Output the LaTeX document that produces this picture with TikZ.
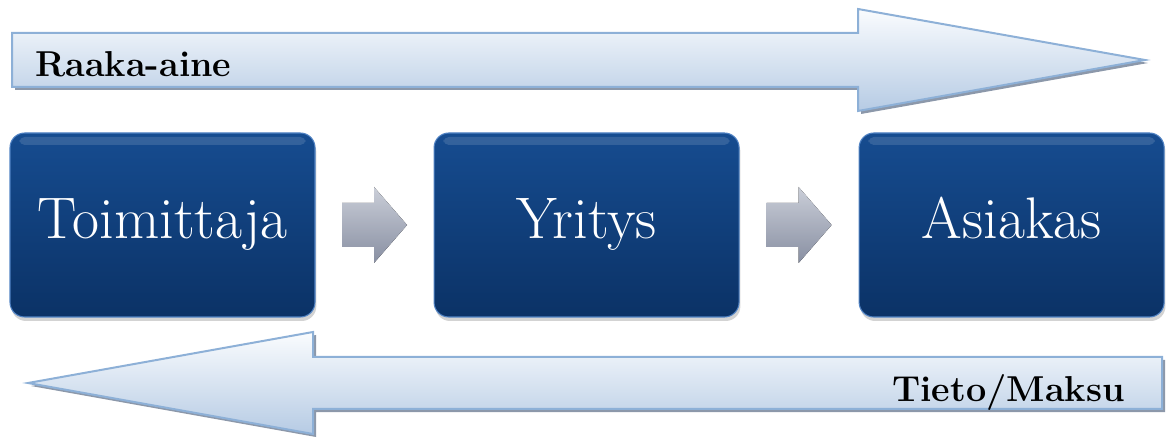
\documentclass[tikz,border=0pt]{standalone}
\usetikzlibrary{positioning, calc, shadows}

\definecolor{boxtop}{RGB}{22,76,144}
\definecolor{boxbottom}{RGB}{11,50,102}
\definecolor{boxedge}{RGB}{80,130,195}
\definecolor{flowtop}{RGB}{250,252,254}
\definecolor{flowbottom}{RGB}{182,203,228}
\definecolor{flowedge}{RGB}{141,176,215}
\definecolor{flowshadow}{RGB}{140,152,170}
\definecolor{steptop}{RGB}{202,206,216}
\definecolor{stepbottom}{RGB}{136,143,162}

\tikzset{
  stagebox/.style={rounded corners=11pt, minimum width=228.75pt, minimum height=138pt,
    top color=boxtop, bottom color=boxbottom, draw=boxedge, line width=0.8pt,
    text=white, font=\fontsize{44}{52}\selectfont, text height=30pt, text depth=9pt,
    drop shadow={shadow xshift=1pt, shadow yshift=-3pt, opacity=0.35},
    path picture={\fill[white, opacity=0.13, rounded corners=4pt]
      ([shift={(7pt,-3pt)}]path picture bounding box.north west) rectangle
      ([shift={(-7pt,-9pt)}]path picture bounding box.north east);}},
  flowarrow/.style={top color=flowtop, bottom color=flowbottom, draw=flowedge,
    line width=1.5pt, line join=miter},
  flowshade/.style={fill=flowshadow, shift={(3,3)}},
  flowlabel/.style={font=\bfseries\fontsize{27}{32}\selectfont, inner sep=0pt},
  stepdart/.style={top color=steptop, bottom color=stepbottom, draw=none}
}

\begin{document}
\begin{tikzpicture}[x=0.75pt, y=-0.75pt]
\useasboundingbox (0,0) rectangle (1168,438);

% material flow (top)
\fill [flowshade] (12,33) -- (858,33) -- (858,9) -- (1145,60) -- (858,111) -- (858,87) -- (12,87) -- cycle;
\draw [flowarrow] (12,33) -- (858,33) -- (858,9) -- (1145,60) -- (858,111) -- (858,87) -- (12,87) -- cycle;
\node [flowlabel, anchor=base west] (raaka) at (35,77) {Raaka-aine};

% information / payment flow (bottom)
\fill [flowshade] (1162,357) -- (313,357) -- (313,332) -- (28,383) -- (313,434) -- (313,409) -- (1162,409) -- cycle;
\draw [flowarrow] (1162,357) -- (313,357) -- (313,332) -- (28,383) -- (313,434) -- (313,409) -- (1162,409) -- cycle;
\node [flowlabel, anchor=base east] (tieto) at (1125,402) {Tieto/Maksu};

% chain
\node [stagebox] (toim) at (162.5,225) {Toimittaja};
\node [stagebox, right=88.5pt of toim] (yri) {Yritys};
\node [stagebox, right=89.25pt of yri] (asi) {Asiakas};

\foreach \a/\b in {toim/yri, yri/asi} {
  \path ($(\a.east)!0.5!(\b.west)$) coordinate (\a-\b);
  \fill [stepdart] ([shift={(-24.4pt,16.5pt)}]\a-\b) -- ([shift={(-0.4pt,16.5pt)}]\a-\b)
    -- ([shift={(-0.4pt,28.5pt)}]\a-\b) -- ([shift={(24.4pt,0pt)}]\a-\b)
    -- ([shift={(-0.4pt,-28.5pt)}]\a-\b) -- ([shift={(-0.4pt,-16.5pt)}]\a-\b)
    -- ([shift={(-24.4pt,-16.5pt)}]\a-\b) -- cycle;
}

\end{tikzpicture}
\end{document}
